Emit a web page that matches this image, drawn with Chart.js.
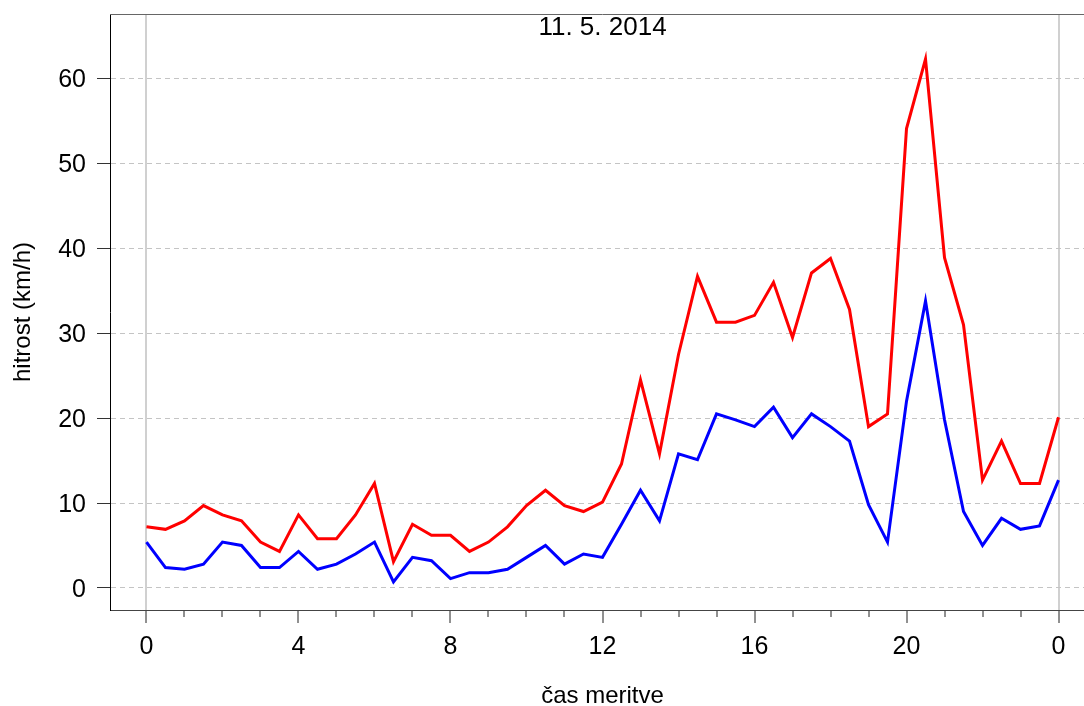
<!DOCTYPE html>
<html>
<head>
<meta charset="utf-8">
<script src="https://cdn.jsdelivr.net/npm/chart.js@4/dist/chart.umd.min.js"></script>
<style>
html, body { margin: 0; padding: 0; overflow: hidden; background: #fff; }
#wrap { width: 1084px; height: 706px; overflow: hidden; }
</style>
</head>
<body>
<div id="wrap"><canvas id="c" width="1096" height="712"></canvas></div>
<script>
const chartTitle = '11. 5. 2014';
const xTitle = 'čas meritve';
const yTitle = 'hitrost (km/h)';

const times = [0, 0.5, 1, 1.5, 2, 2.5, 3, 3.5, 4, 4.5, 5, 5.5, 6, 6.5, 7, 7.5, 8, 8.5, 9, 9.5,
  10, 10.5, 11, 11.5, 12, 12.5, 13, 13.5, 14, 14.5, 15, 15.5, 16, 16.5, 17, 17.5, 18, 18.5, 19, 19.5,
  20, 20.5, 21, 21.5, 22, 22.5, 23, 23.5, 24];

const maxSpeed = [7.2, 6.9, 7.9, 9.7, 8.6, 7.9, 5.4, 4.3, 8.6, 5.8, 5.8, 8.6, 12.3, 3.1, 7.5, 6.2, 6.2, 4.3, 5.4, 7.2,
  9.7, 11.5, 9.7, 9.0, 10.1, 14.6, 24.5, 15.8, 27.5, 36.7, 31.3, 31.3, 32.1, 36.0, 29.5, 37.1, 38.8, 32.8, 19.0, 20.5,
  54.1, 62.3, 38.9, 31.0, 12.7, 17.3, 12.3, 12.3, 20.1];

const avgSpeed = [5.4, 2.4, 2.2, 2.8, 5.4, 5.0, 2.4, 2.4, 4.3, 2.2, 2.8, 4.0, 5.4, 0.7, 3.6, 3.2, 1.1, 1.8, 1.8, 2.2,
  3.6, 5.0, 2.8, 4.0, 3.6, 7.5, 11.5, 7.9, 15.8, 15.1, 20.5, 19.8, 19.0, 21.3, 17.7, 20.5, 19.0, 17.3, 9.8, 5.4,
  22.0, 33.8, 19.8, 9.0, 5.0, 8.2, 6.9, 7.3, 12.7];

const xTickValues = [0, 1, 2, 3, 4, 5, 6, 7, 8, 9, 10, 11, 12, 13, 14, 15, 16, 17, 18, 19, 20, 21, 22, 23, 24];
const xTickLabels = {0: '0', 4: '4', 8: '8', 12: '12', 16: '16', 20: '20', 24: '0'};
const yTickValues = [0, 10, 20, 30, 40, 50, 60];

const FONT = "'Liberation Sans', Arial, Helvetica, sans-serif";

const pts = (vals) => vals.map((v, i) => ({x: times[i], y: v}));

const frameAndTitle = {
  id: 'frameAndTitle',
  afterDraw(chart) {
    const {ctx, chartArea} = chart;
    ctx.save();
    ctx.strokeStyle = '#666';
    ctx.lineWidth = 1;
    ctx.beginPath();
    ctx.moveTo(chartArea.left, chartArea.top + 0.5);
    ctx.lineTo(chartArea.right, chartArea.top + 0.5);
    ctx.stroke();
    ctx.fillStyle = '#000';
    ctx.font = "26px " + FONT;
    ctx.textAlign = 'center';
    ctx.textBaseline = 'alphabetic';
    ctx.fillText(chartTitle, (chartArea.left + chartArea.right) / 2, 35);
    ctx.restore();
  }
};

new Chart(document.getElementById('c'), {
  type: 'line',
  data: {
    datasets: [
      {data: pts(maxSpeed), borderColor: '#ff0000', borderWidth: 3, pointRadius: 0, tension: 0, fill: false},
      {data: pts(avgSpeed), borderColor: '#0000ff', borderWidth: 3, pointRadius: 0, tension: 0, fill: false}
    ]
  },
  options: {
    responsive: false,
    animation: false,
    devicePixelRatio: 1,
    layout: {padding: {top: 14, right: 1, left: 0, bottom: 0}},
    plugins: {legend: {display: false}, tooltip: {enabled: false}, title: {display: false}},
    scales: {
      x: {
        type: 'linear',
        min: -0.96,
        max: 24.96,
        afterBuildTicks: (s) => { s.ticks = xTickValues.map(v => ({value: v})); },
        afterFit: (s) => { s.height = 102; s.paddingLeft = 0; s.paddingRight = 0; },
        ticks: {
          autoSkip: false,
          maxRotation: 0,
          padding: 9,
          color: '#000',
          font: {family: FONT, size: 25},
          callback: (v) => (v in xTickLabels ? xTickLabels[v] : '')
        },
        grid: {
          drawOnChartArea: true,
          color: (c) => (c.tick && (c.tick.value === 0 || c.tick.value === 24)) ? '#d0d0d0' : 'rgba(0,0,0,0)',
          lineWidth: 2,
          tickLength: 13,
          tickColor: '#222',
          tickWidth: 1,
          tickBorderDash: (c) => (c.tick && c.tick.value % 4 === 0) ? [] : [6, 60]
        },
        border: {display: true, color: '#444', width: 1},
        title: {display: true, text: xTitle, color: '#000', font: {family: FONT, size: 24}, padding: {top: 0, bottom: 1}}
      },
      y: {
        min: -2.6,
        max: 67.6,
        afterBuildTicks: (s) => { s.ticks = yTickValues.map(v => ({value: v})); },
        afterFit: (s) => { s.width = 110; s.paddingTop = 0; s.paddingBottom = 0; },
        ticks: {
          padding: 11,
          labelOffset: 2,
          color: '#000',
          font: {family: FONT, size: 25}
        },
        grid: {
          color: '#c4c4c4',
          lineWidth: 1,
          tickLength: 13,
          tickColor: '#333',
          tickWidth: 1,
          tickBorderDash: []
        },
        border: {display: true, color: '#000', width: 1, dash: [5, 4]},
        title: {display: true, text: yTitle, color: '#000', font: {family: FONT, size: 24}, padding: {top: 9, bottom: 0}}
      }
    }
  },
  plugins: [frameAndTitle]
});
</script>
</body>
</html>
